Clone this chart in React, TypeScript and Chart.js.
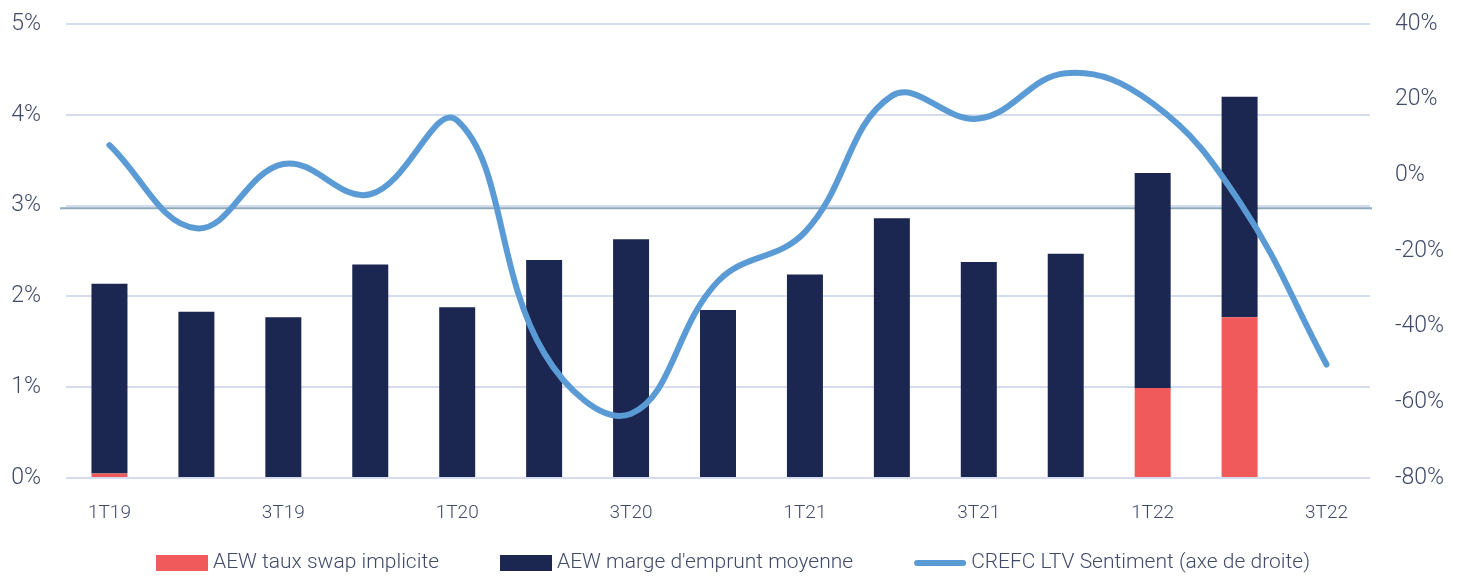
import { useEffect, useRef } from 'react';
import { Chart, registerables } from 'chart.js';

Chart.register(...registerables);

const quarters = ['1T19', '2T19', '3T19', '4T19', '1T20', '2T20', '3T20', '4T20', '1T21', '2T21', '3T21', '4T21', '1T22', '2T22', '3T22'];
const swapRate = [0.05, 0, 0, 0, 0, 0, 0, 0, 0, 0, 0, 0, 0.99, 1.77, null];
const borrowingMargin = [2.09, 1.83, 1.77, 2.35, 1.88, 2.4, 2.63, 1.85, 2.24, 2.86, 2.38, 2.47, 2.37, 2.43, null];
const ltvSentiment = [8, -14, 3, -5, 14.5, -47, -63, -28, -15, 21, 15, 27, 19, -7, -50];
const leftTicks = { min: 0, max: 5, step: 1 };
const rightTicks = { min: -80, max: 40, step: 20 };
const referenceLevel = 2.97;

const RED = '#F05A5B';
const NAVY = '#1B2651';
const LINE = '#5B9BD5';
const TEXT = '#414A6B';
const GRID = '#D6DCEF';
const FONT = 'Roboto';

const refLinePlugin = {
  id: 'refLine',
  beforeDatasetsDraw(chart: any) {
    const { ctx, chartArea, scales } = chart;
    const y = scales.y.getPixelForValue(referenceLevel);
    ctx.save();
    ctx.strokeStyle = '#8EA9B8';
    ctx.lineWidth = 2;
    ctx.beginPath();
    ctx.moveTo(chartArea.left - 6, y);
    ctx.lineTo(chartArea.right + 2, y);
    ctx.stroke();
    ctx.restore();
  },
};

const legendPlugin = {
  id: 'customLegend',
  afterDraw(chart: any) {
    const { ctx } = chart;
    const datasets = chart.data.datasets;
    const boxW = 52;
    const boxH = 16;
    const gapText = 5;
    const gapItem = 61;
    ctx.save();
    ctx.font = `300 21px ${FONT}`;
    const widths = datasets.map((ds: any) => boxW + gapText + ctx.measureText(ds.label).width);
    const total = widths.reduce((a: number, b: number) => a + b, 0) + gapItem * (datasets.length - 1);
    let x = chart.width / 2 - total / 2;
    const cy = chart.height - 10;
    ctx.textBaseline = 'middle';
    ctx.textAlign = 'left';
    datasets.forEach((ds: any, i: number) => {
      if (ds.type === 'line') {
        ctx.strokeStyle = ds.borderColor;
        ctx.lineWidth = 6;
        ctx.lineCap = 'round';
        ctx.beginPath();
        ctx.moveTo(x + 3, cy);
        ctx.lineTo(x + boxW - 3, cy);
        ctx.stroke();
      } else {
        ctx.fillStyle = ds.backgroundColor;
        ctx.fillRect(x, cy - boxH / 2, boxW, boxH);
      }
      ctx.fillStyle = TEXT;
      ctx.fillText(ds.label, x + boxW + gapText, cy);
      x += widths[i] + gapItem;
    });
    ctx.restore();
  },
};

export default function App() {
  const ref = useRef<HTMLCanvasElement>(null);
  useEffect(() => {
    const chart = new Chart(ref.current!, {
      type: 'bar',
      data: {
        labels: quarters,
        datasets: [
          {
            type: 'bar',
            label: 'AEW taux swap implicite',
            data: swapRate,
            backgroundColor: RED,
            yAxisID: 'y',
            order: 1,
            barPercentage: 1,
            categoryPercentage: 0.414,
          },
          {
            type: 'bar',
            label: "AEW marge d'emprunt moyenne",
            data: borrowingMargin,
            backgroundColor: NAVY,
            yAxisID: 'y',
            order: 1,
            barPercentage: 1,
            categoryPercentage: 0.414,
          },
          {
            type: 'line',
            label: 'CREFC LTV Sentiment (axe de droite)',
            data: ltvSentiment,
            borderColor: LINE,
            backgroundColor: LINE,
            borderWidth: 6,
            borderCapStyle: 'round',
            tension: 0.4,
            pointRadius: 0,
            yAxisID: 'y1',
            order: 0,
          },
        ] as any,
      },
      plugins: [refLinePlugin, legendPlugin],
      options: {
        animation: false,
        responsive: true,
        maintainAspectRatio: false,
        layout: { padding: { top: 16, left: 0, right: 0, bottom: 35 } },
        plugins: {
          tooltip: { enabled: false },
          legend: { display: false },
        },
        scales: {
          x: {
            stacked: true,
            grid: { display: false, drawTicks: false },
            border: { display: false },
            afterFit: (s: any) => {
              s.height = 60;
            },
            ticks: {
              autoSkip: false,
              maxRotation: 0,
              padding: 24,
              color: TEXT,
              font: { family: FONT, size: 19, weight: '300' },
              callback: (_v: any, i: number) => (i % 2 === 0 ? quarters[i] : ''),
            },
          },
          y: {
            stacked: true,
            position: 'left',
            min: leftTicks.min,
            max: leftTicks.max,
            grid: { color: GRID, lineWidth: 2, drawTicks: false },
            border: { display: false },
            afterFit: (s: any) => {
              s.width = 58;
              s.paddingTop = 0;
              s.paddingBottom = 0;
            },
            ticks: {
              stepSize: leftTicks.step,
              padding: 25,
              color: TEXT,
              font: { family: FONT, size: 23, weight: '300' },
              callback: (v: any) => v + '%',
            },
          },
          y1: {
            position: 'right',
            min: rightTicks.min,
            max: rightTicks.max,
            grid: { display: false, drawTicks: false },
            border: { display: false },
            afterFit: (s: any) => {
              s.width = 88;
              s.paddingTop = 0;
              s.paddingBottom = 0;
            },
            ticks: {
              stepSize: rightTicks.step,
              padding: 25,
              color: TEXT,
              font: { family: FONT, size: 23, weight: '300' },
              callback: (v: any) => v + '%',
            },
          },
        },
      } as any,
    });
    return () => chart.destroy();
  }, []);
  return (
    <div style={{ width: 1450, height: 565, position: 'relative' }}>
      <canvas ref={ref} />
    </div>
  );
}
